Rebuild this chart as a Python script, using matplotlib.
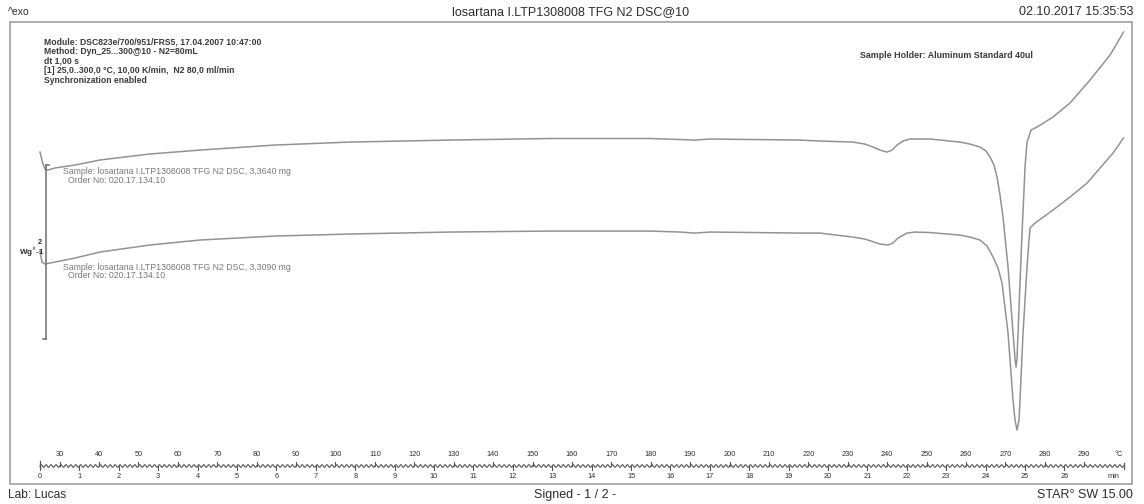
import numpy as np
import matplotlib
matplotlib.use("Agg")
import matplotlib.pyplot as plt
from matplotlib.patches import Rectangle

plt.rcParams['font.family'] = ['Liberation Sans', 'DejaVu Sans']

# DSC curve 1 (3,3640 mg): temperature in degC, normalized heat flow in W/g
temp_1 = [25.0, 25.76, 26.27, 27.03, 28.81, 33.88, 40.23, 52.92, 65.61, 84.65,
          103.68, 129.06, 154.44, 179.82, 187.44, 191.25, 195.05, 217.9, 222.97,
          231.35, 234.39, 236.42, 238.2, 239.98, 241.25, 242.52, 244.04, 245.81,
          250.89, 258.5, 261.04, 263.58, 265.1, 266.12, 267.13, 267.9, 268.66,
          269.42, 270.69, 271.96, 272.46, 272.72, 272.97, 273.23, 273.73, 274.24,
          274.75, 275.0, 275.51, 276.53, 278.05, 282.11, 286.42, 291.5, 296.58,
          300.0]
hf_1 = [1.011, 0.874, 0.816, 0.805, 0.828, 0.862, 0.920, 0.989, 1.034, 1.092,
        1.126, 1.149, 1.167, 1.167, 1.155, 1.149, 1.161, 1.149, 1.138,
        1.126, 1.103, 1.069, 1.034, 1.011, 1.034, 1.092, 1.138, 1.161,
        1.161, 1.126, 1.103, 1.069, 1.023, 0.954, 0.862, 0.724, 0.517,
        0.264, -0.310, -1.069, -1.360, -1.460, -1.360, -1.069, -0.494, 0.080,
        0.575, 0.839, 1.126, 1.264, 1.299, 1.414, 1.575, 1.839, 2.126,
        2.390]

# DSC curve 2 (3,3090 mg)
temp_2 = [25.0, 25.51, 26.27, 27.54, 28.81, 33.88, 40.23, 52.92, 65.61, 84.65,
          103.68, 129.06, 154.44, 179.82, 187.44, 191.25, 195.05, 217.9, 222.97,
          231.35, 234.39, 238.2, 240.23, 241.5, 242.77, 245.06, 247.08, 250.89,
          258.5, 261.04, 263.58, 265.36, 266.88, 268.15, 269.17, 270.69, 271.96,
          272.46, 272.97, 273.48, 273.73, 274.5, 275.51, 276.02, 276.27, 277.54,
          282.11, 286.42, 290.74, 297.34, 300.0]
hf_2 = [-0.126, -0.253, -0.276, -0.264, -0.253, -0.207, -0.138, -0.057, 0.0, 0.046,
        0.069, 0.092, 0.103, 0.103, 0.092, 0.080, 0.092, 0.080, 0.080,
        0.034, 0.011, -0.046, -0.057, -0.034, 0.023, 0.080, 0.092, 0.086,
        0.057, 0.034, 0.0, -0.069, -0.195, -0.322, -0.494, -1.069, -1.839,
        -2.069, -2.184, -2.069, -1.839, -1.069, -0.310, 0.0, 0.138, 0.195,
        0.345, 0.494, 0.655, 1.0, 1.172]

temp_ticks = list(range(30, 300, 10))
time_ticks = list(range(0, 27))
start_temp = 25.0
end_temp = 300.0
heating_rate = 10.0   # K/min
scale_bar = 2.0       # W/g

W, H = 1144, 504
fig = plt.figure(figsize=(W / 100, H / 100), dpi=100)
fig.patch.set_facecolor('white')
ax = fig.add_axes([0, 0, 1, 1])
ax.set_xlim(14.85, 305.2)
ax.set_ylim(-3.034, 2.759)
ax.axis('off')


def fx(x):
    return x / W


def fy(y):
    return 1 - y / H


def ay(y):
    return 1 - y / H


curve_col = '#939393'
text_dark = '#2e2e2e'

# Frame
fig.patches.append(Rectangle((fx(10), fy(484)), (1132 - 10) / W, (484 - 22) / H,
                             transform=fig.transFigure, fill=False,
                             ec='#a0a0a0', lw=1.2))

# Curves
ax.plot(temp_1, hf_1, color=curve_col, lw=1.1, solid_joinstyle='round')
ax.plot(temp_2, hf_2, color=curve_col, lw=1.1, solid_joinstyle='round')

# Heat-flow scale bar (2 W/g)
bar_bottom = -1.138
ax.plot([26.5, 26.5], [bar_bottom, bar_bottom + scale_bar], color='#6e6e6e', lw=1.1)
ax.plot([25.7, 26.5], [bar_bottom, bar_bottom], color='#6e6e6e', lw=1.1)
ax.plot([26.5, 27.3], [bar_bottom + scale_bar, bar_bottom + scale_bar],
        color='#6e6e6e', lw=1.1)
fig.text(fx(40), fy(242), '2', fontsize=5.5, fontweight='bold', color=text_dark,
         ha='center', va='center')
fig.text(fx(45), fy(252), 'Wg$^{\\wedge}$-1', fontsize=5.8, fontweight='bold',
         color=text_dark, ha='right', va='center')

# Ruler: temperature above, time below
xt = ax.get_xaxis_transform()
tw = np.linspace(start_temp, end_temp, 4000)
wave = ay(466) + (1.3 / H) * np.sin(2 * np.pi * (tw - start_temp) / 1.25)
ax.plot(tw, wave, color='#555555', lw=0.8, transform=xt)
for t in temp_ticks:
    ax.plot([t, t], [ay(466), ay(462)], color='#555555', lw=0.8, transform=xt)
    ax.text(t, ay(455), str(t), fontsize=5.3, color=text_dark, ha='center',
            va='center', transform=xt)
for m in time_ticks:
    tm = start_temp + heating_rate * m
    ax.plot([tm, tm], [ay(466), ay(470)], color='#555555', lw=0.8, transform=xt)
    ax.text(tm, ay(477), str(m), fontsize=5.3, color=text_dark, ha='center',
            va='center', transform=xt)
ax.plot([start_temp, start_temp], [ay(461), ay(468)], color='#555555', lw=0.9,
        transform=xt)
ax.plot([end_temp, end_temp], [ay(463), ay(469)], color='#555555', lw=0.9,
        transform=xt)
fig.text(fx(1119), fy(455), '°C', fontsize=5.3, color=text_dark, ha='center', va='center')
fig.text(fx(1113), fy(477), 'min', fontsize=5.3, color=text_dark, ha='center', va='center')

# Header
fig.text(fx(8), fy(12), '^exo', fontsize=7.5, color=text_dark,
         ha='left', va='center')
fig.text(fx(571), fy(12), 'losartana I.LTP1308008 TFG N2 DSC@10', fontsize=9,
         color=text_dark, ha='center', va='center')
fig.text(fx(1133), fy(12), '02.10.2017 15:35:53', fontsize=9, color=text_dark,
         ha='right', va='center')

# Method block
method_lines = [
    'Module: DSC823e/700/951/FRS5, 17.04.2007 10:47:00',
    'Method: Dyn_25...300@10 - N2=80mL',
    'dt 1,00 s',
    '[1] 25,0..300,0 °C, 10,00 K/min,  N2 80,0 ml/min',
    'Synchronization enabled',
]
for i, line in enumerate(method_lines):
    fig.text(fx(44), fy(42 + 9.6 * i), line, fontsize=6.2, fontweight='bold',
             color='#3a3a3a', ha='left', va='center')

fig.text(fx(860), fy(55), 'Sample Holder: Aluminum Standard 40ul', fontsize=6.4,
         fontweight='bold', color='#3a3a3a', ha='left', va='center')

# Sample labels
sample_col = '#7a7a7a'
fig.text(fx(63), fy(172), 'Sample: losartana I.LTP1308008 TFG N2 DSC, 3,3640 mg',
         fontsize=6.3, color=sample_col, ha='left', va='center')
fig.text(fx(68), fy(180.5), 'Order No: 020.17.134.10', fontsize=6.3, color=sample_col,
         ha='left', va='center')
fig.text(fx(63), fy(267), 'Sample: losartana I.LTP1308008 TFG N2 DSC, 3,3090 mg',
         fontsize=6.3, color=sample_col, ha='left', va='center')
fig.text(fx(68), fy(275.5), 'Order No: 020.17.134.10', fontsize=6.3, color=sample_col,
         ha='left', va='center')

# Footer
fig.text(fx(8), fy(495), 'Lab: Lucas', fontsize=8.6, color=text_dark, ha='left',
         va='center')
fig.text(fx(575), fy(495), 'Signed - 1 / 2 -', fontsize=9, color=text_dark,
         ha='center', va='center')
fig.text(fx(1133), fy(495), 'STAR° SW 15.00', fontsize=9, color=text_dark,
         ha='right', va='center')

fig.savefig('out.png', dpi=100, facecolor='white')
